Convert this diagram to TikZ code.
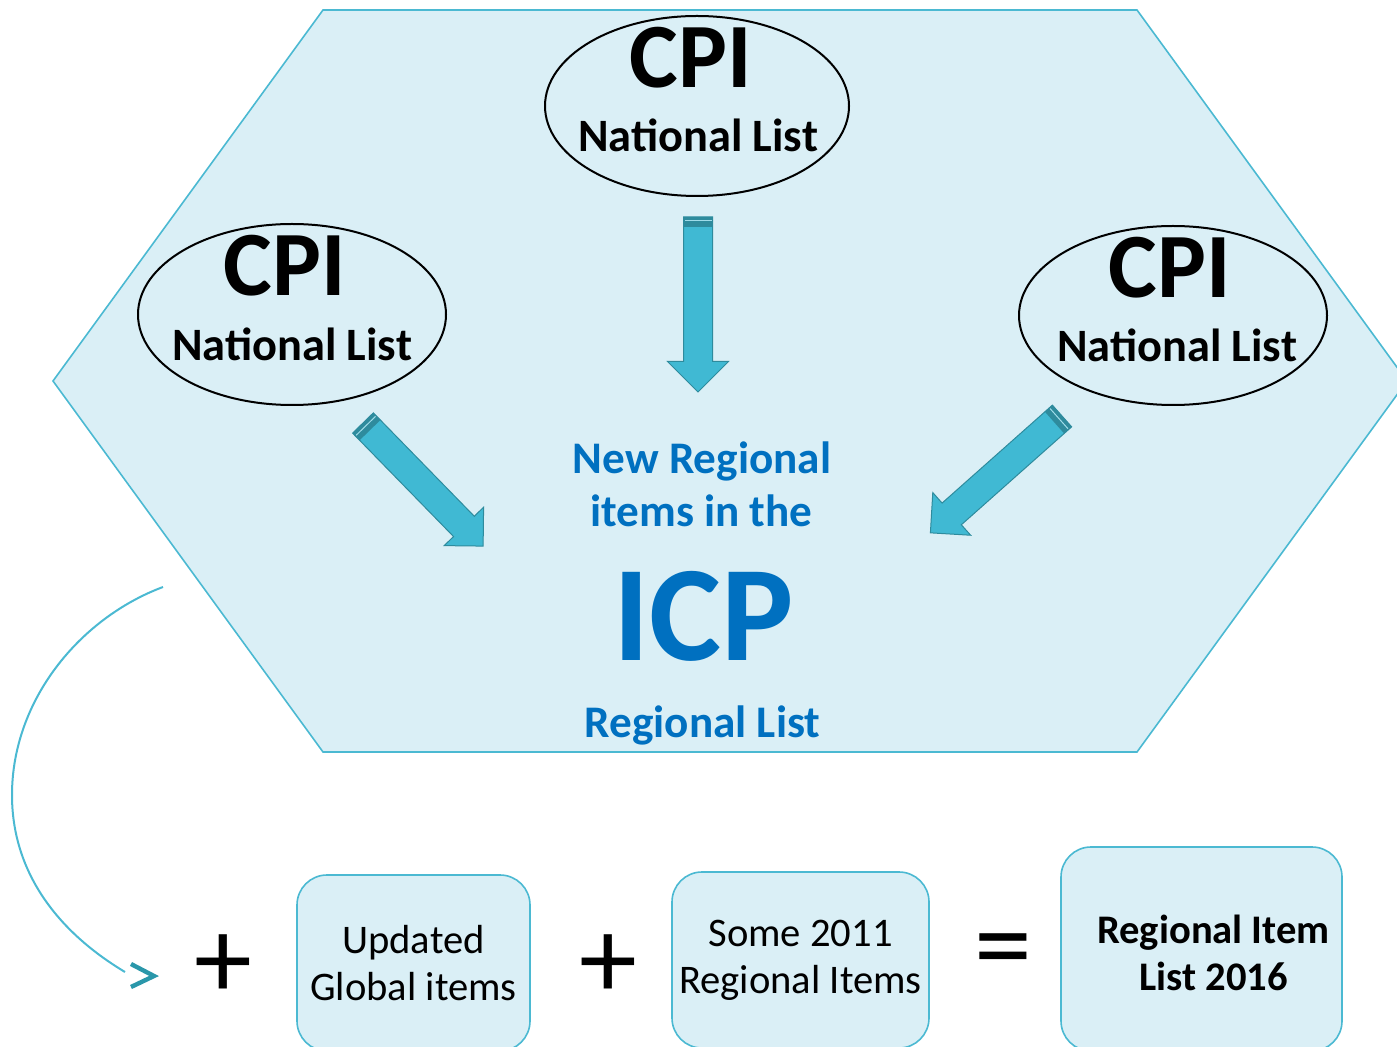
\documentclass[tikz,border=0pt]{standalone}
\usepackage{fontspec}
\setmainfont{Carlito}
\usetikzlibrary{shapes.geometric}

\definecolor{hexfill}{HTML}{DAEFF6}
\definecolor{hexline}{HTML}{4BB9D2}
\definecolor{arrowfill}{HTML}{40B9D3}
\definecolor{arrowedge}{HTML}{2E8B9D}
\definecolor{icpblue}{HTML}{0070C0}
\definecolor{tipteal}{HTML}{2A97AA}

\tikzset{
  cpiellipse/.style={ellipse, draw=black, line width=1pt, inner sep=0pt},
  cpitext/.style={anchor=base, font=\bfseries\fontsize{46}{48}\selectfont},
  natlist/.style={anchor=base, font=\bfseries\fontsize{23.2}{24}\selectfont},
  bluetext/.style={anchor=base, text=icpblue, font=\bfseries\fontsize{22.6}{24}\selectfont},
  itembox/.style={draw=hexline, fill=hexfill, line width=0.8pt, rounded corners=15pt,
    align=center, inner sep=0pt, font=\fontsize{20.3}{23.5}\selectfont},
  opsign/.style={font=\fontsize{58}{60}\selectfont, inner sep=0pt},
  arrowbody/.style={fill=arrowfill, draw=arrowedge, line width=0.5pt, line join=miter}
}

% block arrow: tail point, angle, length, head size
\newcommand{\icparrow}[4]{%
  \begin{scope}[shift={#1}, rotate=#2]
    \filldraw[arrowbody] (0,-14.5) -- ({#3-#4},-14.5) -- ({#3-#4},-#4) -- (#3,0)
      -- ({#3-#4},#4) -- ({#3-#4},14.5) -- (0,14.5) -- cycle;
    \fill[arrowedge] (0,-14.5) rectangle (10,14.5);
    \draw[arrowfill!50!white, line width=0.5pt] (4,-13.5) -- (4,13.5);
  \end{scope}}

\begin{document}
\begin{tikzpicture}[x=0.5pt, y=-0.5pt]
  \useasboundingbox (0,0) rectangle (1397,1047);
  \clip (0,0) rectangle (1397,1047);

  % regional hexagon
  \filldraw[fill=hexfill, draw=hexline, line width=0.8pt]
    (323,10) -- (1137,10) -- (1407,381) -- (1137,752) -- (323,752) -- (53,381) -- cycle;

  % national lists
  \node[cpiellipse, minimum width=152pt, minimum height=90pt] (topcpi) at (697,106) {};
  \node[cpitext] (topcpit) at (691,88) {CPI};
  \node[natlist] (topnl) at (698,152) {National List};

  \node[cpiellipse, minimum width=154pt, minimum height=90.5pt] (leftcpi) at (292,314.5) {};
  \node[cpitext] (leftcpit) at (284.5,296) {CPI};
  \node[natlist] (leftnl) at (292,361) {National List};

  \node[cpiellipse, minimum width=154pt, minimum height=89.5pt] (rightcpi) at (1173,315.5) {};
  \node[cpitext] (rightcpit) at (1170,298) {CPI};
  \node[natlist] (rightnl) at (1177,362) {National List};

  % arrows into the regional list
  \icparrow{(698,217)}{-90}{175}{30.5}
  \icparrow{(363,423)}{-45.7}{172}{27.5}
  \icparrow{(1062,416)}{-138.4}{176}{28.5}

  % ICP regional list
  \node[bluetext] (newreg) at (702,474) {New Regional};
  \node[bluetext] (itemsin) at (701.5,527) {items in the};
  \node[anchor=base, text=icpblue, font=\bfseries\fontsize{68}{70}\selectfont] (icp) at (703.5,660) {ICP};
  \node[bluetext] (reglist) at (702.5,737) {Regional List};

  % bottom equation
  \node[itembox, minimum width=116.5pt, minimum height=88pt] (global) at (413.5,963) {Updated\\Global items};
  \node[itembox, minimum width=128.5pt, minimum height=88pt] (old) at (800.5,960) {Some 2011\\Regional Items};
  \node[itembox, minimum width=140.5pt, minimum height=102pt] (final) at (1201.5,949) {};
  \node[align=center, font=\bfseries\fontsize{20.3}{23.5}\selectfont] (finaltext)
    at ([xshift=6pt, yshift=-2pt]final.center) {Regional Item\\List 2016};

  \node[opsign] (plusa) at (223,967) {+};
  \node[opsign] (plusb) at (608.5,967) {+};
  \node[opsign] (equal) at (1003,959) {=};

  % curved connector
  \coordinate (cstart) at (163,587);
  \coordinate (cend) at (125,972);
  \draw[hexline, line width=1pt] (cstart) .. controls (80,618) and (12,700) .. (12,795)
    .. controls (12,870) and (55,930) .. (cend);
  \draw[tipteal, line width=2.2pt, line join=miter] (131,964) -- (154,976) -- (131,987);
\end{tikzpicture}
\end{document}
